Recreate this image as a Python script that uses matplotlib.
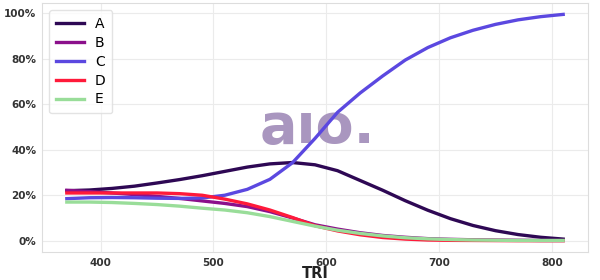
import matplotlib
matplotlib.use("Agg")
import matplotlib.pyplot as plt
from matplotlib.ticker import FuncFormatter

# share of each class along TRI
tri = [370, 390, 410, 430, 450, 470, 490, 510, 530, 550, 570, 590,
       610, 630, 650, 670, 690, 710, 730, 750, 770, 790, 810]
a = [22.0, 22.3, 23.0, 24.0, 25.4, 26.9, 28.6, 30.5, 32.4, 33.8, 34.4, 33.4,
     30.8, 26.5, 22.2, 17.6, 13.4, 9.7, 6.7, 4.4, 2.7, 1.5, 0.7]
b = [22.2, 21.6, 21.0, 20.3, 19.5, 18.6, 17.5, 16.4, 15.0, 12.8, 10.0, 7.0,
     5.1, 3.5, 2.3, 1.5, 0.9, 0.6, 0.4, 0.3, 0.2, 0.1, 0.1]
c = [18.5, 18.9, 19.0, 18.9, 18.7, 18.6, 18.8, 20.0, 22.6, 27.0, 34.3, 45.0,
     56.5, 65.0, 72.5, 79.5, 85.0, 89.3, 92.6, 95.2, 97.2, 98.6, 99.6]
d = [21.0, 21.0, 21.0, 21.0, 21.0, 20.7, 20.0, 18.3, 16.2, 13.5, 10.2, 6.6,
     4.3, 2.6, 1.4, 0.7, 0.3, 0.15, 0.1, 0.05, 0.0, 0.0, 0.0]
e = [17.0, 17.0, 16.8, 16.4, 15.9, 15.2, 14.3, 13.5, 12.3, 10.6, 8.5, 6.4,
     4.6, 3.2, 2.1, 1.3, 0.8, 0.5, 0.3, 0.2, 0.1, 0.1, 0.1]

labels = ["A", "B", "C", "D", "E"]
colors = ["#2e0854", "#8b108b", "#5b48e0", "#ff1a3a", "#99dd99"]

fig, ax = plt.subplots(figsize=(6, 2.8), dpi=100)
fig.subplots_adjust(left=0.07, right=0.98, top=0.989, bottom=0.1)

# watermark behind the lines
ax.text(0.505, 0.5, "a\u0131o.", transform=ax.transAxes, fontsize=40, fontweight="bold",
        color="#a996bf", ha="center", va="center", zorder=1)

for ys, lab, col in zip([a, b, c, d, e], labels, colors):
    ax.plot(tri, [v / 100 for v in ys], color=col, lw=2.4, label=lab, zorder=3)

ax.yaxis.set_major_formatter(FuncFormatter(lambda v, p: f"{v*100:.0f}%"))
ax.set_yticks([0, 0.2, 0.4, 0.6, 0.8, 1.0])
ax.set_xticks([400, 500, 600, 700, 800])
ax.tick_params(length=0, labelsize=7.5, colors="#333333", pad=4)
for t in ax.get_xticklabels() + ax.get_yticklabels():
    t.set_fontweight("bold")
ax.grid(color="#ebebeb", lw=0.8)
ax.set_axisbelow(True)
for s in ax.spines.values():
    s.set_color("#dddddd")
ax.set_xlabel("TRI", fontsize=10.5, fontweight="bold", color="#222222", labelpad=-1)

ax.legend(loc="upper left", fontsize=10, handlelength=2.0, handletextpad=0.8,
          frameon=True, edgecolor="#dddddd", borderpad=0.5, labelspacing=0.35)

plt.savefig("out.png", dpi=100)
